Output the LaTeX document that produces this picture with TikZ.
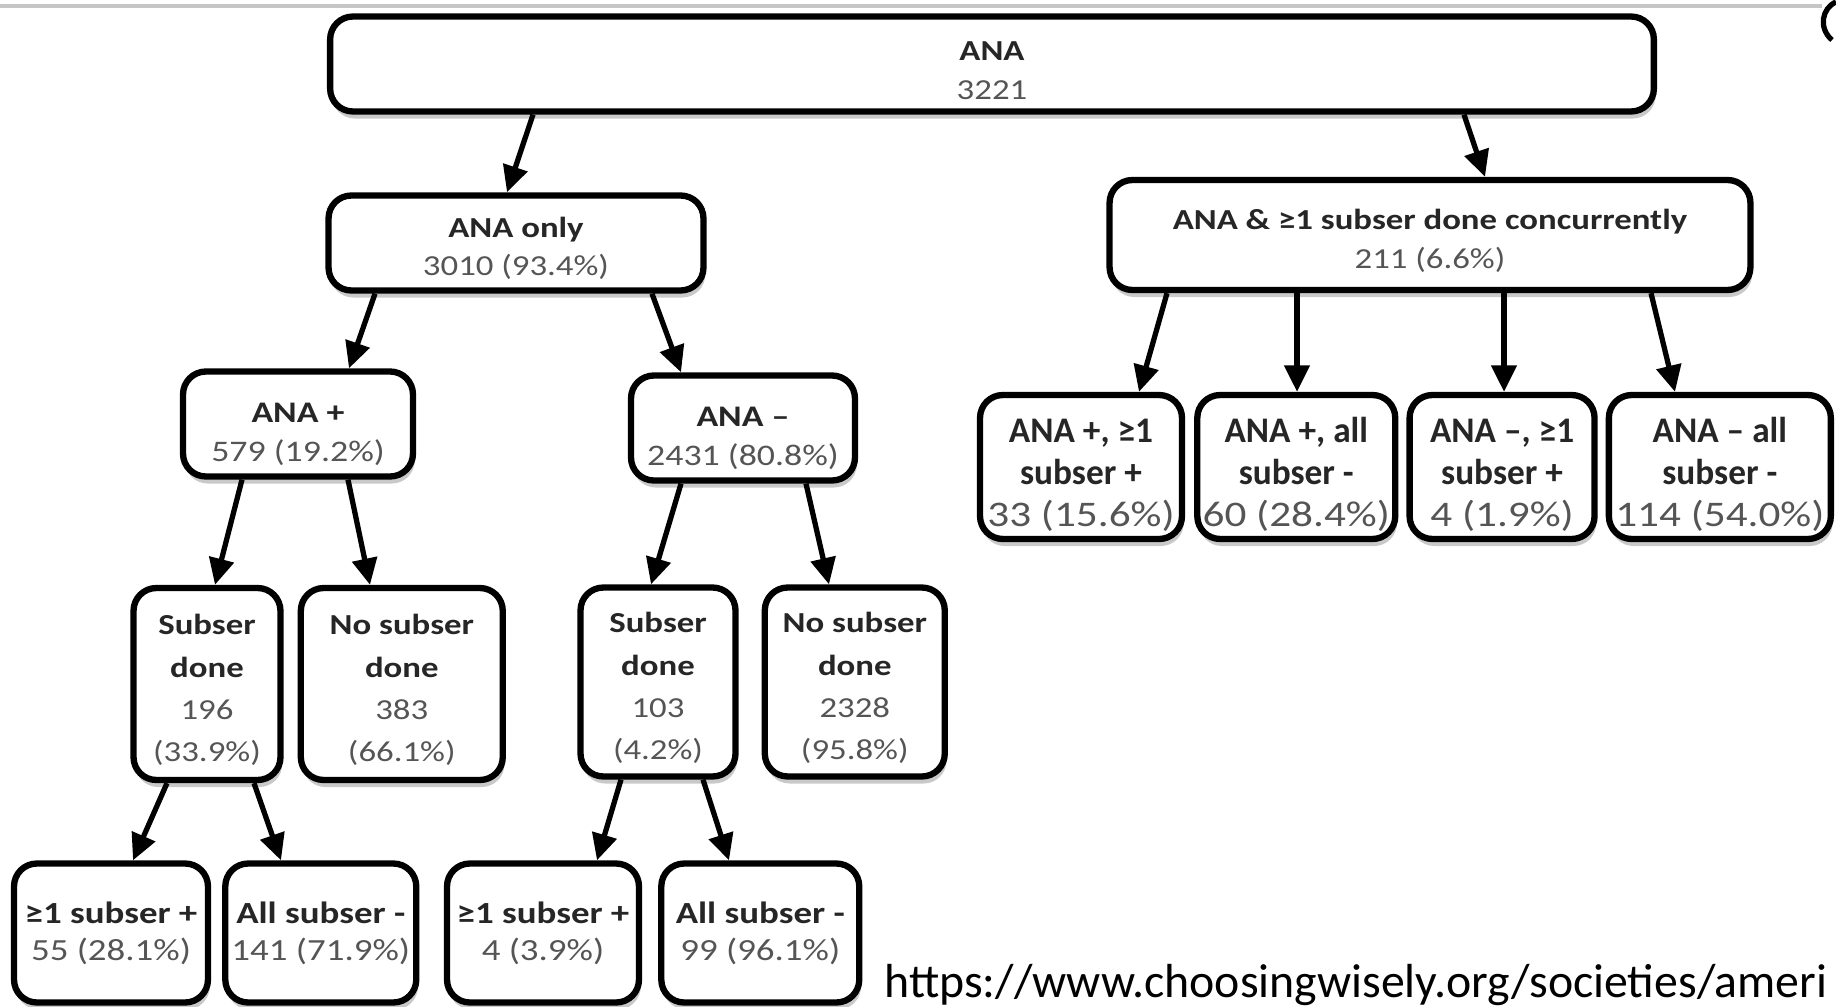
\documentclass[tikz,border=0pt]{standalone}
\usepackage{fontspec}
\setmainfont{Carlito}[FakeStretch=1.2]
\newfontfamily\urlfont{Carlito}
\newfontfamily\condfont{Carlito}[FakeStretch=0.98]
\usepackage{tikz}
\usetikzlibrary{positioning,arrows.meta,shadows}
\usepackage{xcolor}
\definecolor{headtext}{HTML}{262626}
\definecolor{counttext}{HTML}{555555}
\newcommand{\hd}[1]{\textbf{\color{headtext}#1}}
\newcommand{\hdc}[1]{\textbf{\color{headtext}\condfont #1}}
\newcommand{\ct}[1]{{\color{counttext}#1}}
% strut that lowers the text a little inside its box
\newcommand{\lift}[1]{\rule{0pt}{#1}}

\begin{document}
\begin{tikzpicture}[x=0.02cm, y=-0.02cm,
  box/.style={draw, line width=3.6pt, rounded corners=13pt, fill=white, align=center, inner sep=1pt,
    minimum width=#1, drop shadow={shadow xshift=1pt, shadow yshift=-4pt, opacity=.3, fill=black!70}},
  box/.default=4cm,
  arr/.style={-{Triangle[length=15pt, width=14pt]}, line width=3pt},
  toprow/.style={minimum height=1.9cm, font=\fontsize{16.5}{22}\selectfont},
  midrow/.style={minimum height=2.1cm, font=\fontsize{17}{22}\selectfont},
  donerow/.style={minimum height=3.84cm, font=\fontsize{16.5}{24}\selectfont},
  lowrow/.style={minimum height=2.78cm, font=\fontsize{17.5}{21}\selectfont},
  concrow/.style={minimum height=2.88cm, font=\fontsize{20.5}{24}\selectfont}]
\useasboundingbox (0,0) rectangle (1836,1007);
\draw[gray!45, line width=2.8pt] (0,6) -- (1822,6);
\draw[line width=3pt] (1836,2) .. controls (1822,8) and (1818,28) .. (1832,40);

\node[box=26.48cm, toprow] (ana) at (992,64) {\lift{18pt}\hd{ANA}\\ \ct{3221}};
\node[box=7.5cm, toprow] (anaonly) at (516,243) {\lift{17.5pt}\hd{ANA only}\\ \ct{3010 (93.4\%)}};
\node[box=12.82cm, toprow, minimum height=2.2cm] (concur) at (1430,235) {\lift{18pt}\hd{ANA \& ≥1 subser done concurrently}\\ \ct{211 (6.6\%)}};

\node[box=4.6cm, midrow] (anapos) at (298,424) {\lift{23pt}\hd{ANA +}\\ \ct{579 (19.2\%)}};
\node[box=4.48cm, midrow] (ananeg) at (743,428) {\lift{23pt}\hd{ANA –}\\ \ct{2431 (80.8\%)}};

\node[box=2.94cm, donerow] (posdone) at (207,684) {\lift{18.5pt}\hd{Subser}\\ \hd{done}\\ \ct{196}\\ \ct{(33.9\%)}};
\node[box=4.04cm, donerow, right=0.28cm of posdone] (posnone) {\lift{18.5pt}\hd{No subser}\\ \hd{done}\\ \ct{383}\\ \ct{(66.1\%)}};
\node[box=3.1cm, donerow, minimum height=3.78cm] (negdone) at (658,682) {\lift{18.5pt}\hd{Subser}\\ \hd{done}\\ \ct{103}\\ \ct{(4.2\%)}};
\node[box=3.6cm, donerow, minimum height=3.78cm, right=0.46cm of negdone] (negnone) {\lift{18.5pt}\hd{No subser}\\ \hd{done}\\ \ct{2328}\\ \ct{(95.8\%)}};

\node[box=3.88cm, lowrow] (pospos) at (111,933) {\hd{≥1 subser +}\\ \ct{55 (28.1\%)}};
\node[box=3.82cm, lowrow, right=0.22cm of pospos] (posneg) {\hd{All subser -}\\ \ct{141 (71.9\%)}};
\node[box=3.84cm, lowrow] (negpos) at (543,933) {\hd{≥1 subser +}\\ \ct{4 (3.9\%)}};
\node[box=3.96cm, lowrow, right=0.32cm of negpos] (negneg) {\hd{All subser -}\\ \ct{99 (96.1\%)}};

\node[box=4.04cm, concrow] (cpp) at (1081,467) {\lift{22.5pt}\hdc{ANA +, ≥1}\\ \hdc{subser +}\\ \ct{33 (15.6\%)}};
\node[box=3.96cm, concrow, right=0.18cm of cpp] (cpn) {\lift{22.5pt}\hdc{ANA +, all}\\ \hdc{subser -}\\ \ct{60 (28.4\%)}};
\node[box=3.7cm, concrow, right=0.16cm of cpn] (cnp) {\lift{22.5pt}\hdc{ANA –, ≥1}\\ \hdc{subser +}\\ \ct{4 (1.9\%)}};
\node[box=4.44cm, concrow, right=0.16cm of cnp] (cnn) {\lift{22.5pt}\hdc{ANA – all}\\ \hdc{subser -}\\ \ct{114 (54.0\%)}};

\draw[arr] (ana.south -| 533,0) -- (anaonly.north -| 507,0);
\draw[arr] (ana.south -| 1464,0) -- (concur.north -| 1485,0);
\draw[arr] (anaonly.south -| 375,0) -- (anapos.north -| 349,0);
\draw[arr] (anaonly.south -| 652,0) -- (ananeg.north -| 681,0);
\draw[arr] (anapos.south -| 242,0) -- (posdone.north -| 215,0);
\draw[arr] (anapos.south -| 348,0) -- (posnone.north -| 370,0);
\draw[arr] (ananeg.south -| 681,0) -- (negdone.north -| 651,0);
\draw[arr] (ananeg.south -| 806,0) -- (negnone.north -| 829,0);
\draw[arr] (posdone.south -| 167,0) -- (pospos.north -| 133,0);
\draw[arr] (posdone.south -| 254,0) -- (posneg.north -| 281,0);
\draw[arr] (negdone.south -| 621,0) -- (negpos.north -| 597,0);
\draw[arr] (negdone.south -| 703,0) -- (negneg.north -| 729,0);
\draw[arr] (concur.south -| 1167,0) -- (cpp.north -| 1139,0);
\draw[arr] (concur.south -| 1297,0) -- (cpn.north -| 1297,0);
\draw[arr] (concur.south -| 1504,0) -- (cnp.north -| 1504,0);
\draw[arr] (concur.south -| 1651,0) -- (cnn.north -| 1675,0);

\node[anchor=base west, inner sep=0pt, font=\urlfont\fontsize{27.2}{30}\selectfont] (src) at (884,997) {https://www.choosingwisely.org/societies/ameri};
\end{tikzpicture}
\end{document}
